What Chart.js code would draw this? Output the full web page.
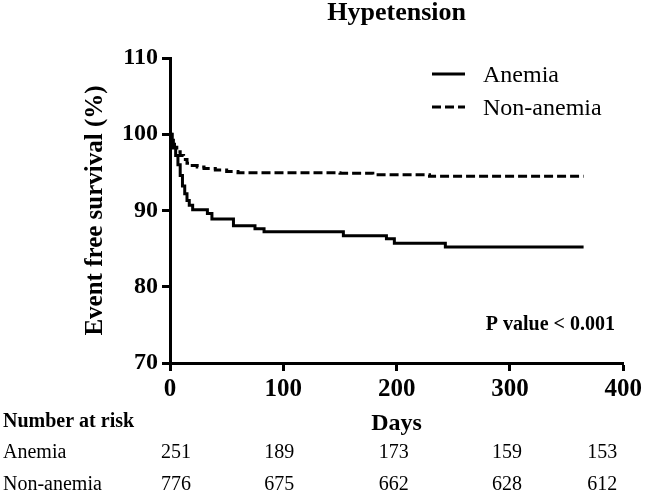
<!DOCTYPE html>
<html>
<head>
<meta charset="utf-8">
<script src="https://cdn.jsdelivr.net/npm/chart.js@4.4.1/dist/chart.umd.min.js"></script>
<style>
  html, body { margin: 0; padding: 0; background: #fff; }
</style>
</head>
<body>
<canvas id="km" width="646" height="492"></canvas>
<script>
// survival curves (days, % event free)
const anemiaDays = [0, 1, 3, 5, 7, 9, 11, 13, 15, 17, 20, 33, 37, 56, 75, 83, 153, 191, 198, 243, 365];
const anemiaSurv = [100, 99.2, 98.2, 97.2, 96.0, 94.6, 93.2, 92.2, 91.3, 90.7, 90.1, 89.6, 88.9, 88.0, 87.6, 87.2, 86.7, 86.3, 85.7, 85.2, 85.2];
const nonAnemiaDays = [0, 2, 4, 6, 9, 12, 15, 18, 24, 30, 40, 50, 60, 150, 179, 229, 365];
const nonAnemiaSurv = [100, 99.0, 98.3, 97.7, 97.2, 96.7, 96.2, 95.9, 95.7, 95.5, 95.3, 95.1, 94.95, 94.9, 94.7, 94.5, 94.5];

const groups = ["Anemia", "Non-anemia"];
const xTicks = [0, 100, 200, 300, 400];
const yTicks = [70, 80, 90, 100, 110];

// number at risk table
const riskDays = [0, 100, 200, 300, 400];
const riskAnemia = [251, 189, 173, 159, 153];
const riskNonAnemia = [776, 675, 662, 628, 612];

const chartTitle = "Hypetension";
const pText = "P value < 0.001";

const serif = '"Liberation Serif", "Times New Roman", serif';
Chart.defaults.font.family = serif;
Chart.defaults.color = "#000";

const toPoints = (days, surv) => days.map((d, i) => ({ x: d, y: surv[i] }));

const kmExtras = {
  id: "kmExtras",
  afterDraw(chart) {
    const { ctx, chartArea, scales: { x } } = chart;
    ctx.save();
    ctx.fillStyle = "#000";
    ctx.textBaseline = "alphabetic";

    ctx.font = "bold 26px " + serif;
    ctx.textAlign = "center";
    ctx.fillText(chartTitle, (chartArea.left + chartArea.right) / 2, 20);

    // legend in the top right of the plot
    chart.data.datasets.forEach((ds, i) => {
      const y = 74 + i * 33;
      ctx.beginPath();
      ctx.lineWidth = 3;
      ctx.strokeStyle = ds.borderColor;
      ctx.setLineDash(ds.borderDash || []);
      ctx.moveTo(432, y);
      ctx.lineTo(465, y);
      ctx.stroke();
      ctx.setLineDash([]);
      ctx.font = "24px " + serif;
      ctx.textAlign = "left";
      ctx.fillText(ds.label, 483, y + 8);
    });

    ctx.font = "bold 20px " + serif;
    ctx.textAlign = "right";
    ctx.fillText(pText, 615, 330);

    ctx.textAlign = "left";
    ctx.fillText("Number at risk", 3, 427);
    ctx.font = "20px " + serif;
    ctx.fillText(groups[0], 3, 458);
    ctx.fillText(groups[1], 3, 490);

    const nudge = [6, -4, -3, -3, -21];
    ctx.textAlign = "center";
    riskDays.forEach((d, i) => {
      const cx = x.getPixelForValue(d) + nudge[i];
      ctx.fillText(String(riskAnemia[i]), cx, 458);
      ctx.fillText(String(riskNonAnemia[i]), cx, 490);
    });
    ctx.restore();
  }
};

new Chart(document.getElementById("km"), {
  type: "line",
  data: {
    datasets: [
      {
        label: groups[0],
        data: toPoints(anemiaDays, anemiaSurv),
        borderColor: "#000",
        borderWidth: 3,
        stepped: true,
        pointRadius: 0,
        fill: false
      },
      {
        label: groups[1],
        data: toPoints(nonAnemiaDays, nonAnemiaSurv),
        borderColor: "#000",
        borderWidth: 3,
        borderDash: [9, 4],
        stepped: true,
        pointRadius: 0,
        fill: false
      }
    ]
  },
  options: {
    responsive: false,
    animation: false,
    layout: { padding: { top: 58, right: 21, left: 0, bottom: 0 } },
    plugins: {
      legend: { display: false },
      tooltip: { enabled: false }
    },
    scales: {
      x: {
        type: "linear",
        min: xTicks[0],
        max: xTicks[xTicks.length - 1],
        afterBuildTicks: (s) => { s.ticks = xTicks.map(v => ({ value: v })); },
        afterFit: (s) => { s.height = 129; },
        grid: { drawOnChartArea: false, drawTicks: true, tickLength: 8, tickWidth: 3, tickColor: "#000" },
        border: { display: true, width: 3, color: "#000" },
        ticks: { font: { size: 25, weight: "bold" }, padding: 4, maxRotation: 0 },
        title: { display: true, text: "Days", font: { size: 24, weight: "bold" }, padding: { top: 0, bottom: 54 } }
      },
      y: {
        min: yTicks[0],
        max: yTicks[yTicks.length - 1],
        afterBuildTicks: (s) => { s.ticks = yTicks.map(v => ({ value: v })); },
        afterFit: (s) => { s.width = 170; },
        grid: { drawOnChartArea: false, drawTicks: true, tickLength: 8, tickWidth: 3, tickColor: "#000" },
        border: { display: true, width: 3, color: "#000" },
        ticks: { font: { size: 24, weight: "bold" }, padding: 4 },
        title: { display: true, text: "Event free survival (%)", font: { size: 25, weight: "bold" }, padding: { top: 81, bottom: 0 } }
      }
    }
  },
  plugins: [kmExtras]
});
</script>
</body>
</html>
